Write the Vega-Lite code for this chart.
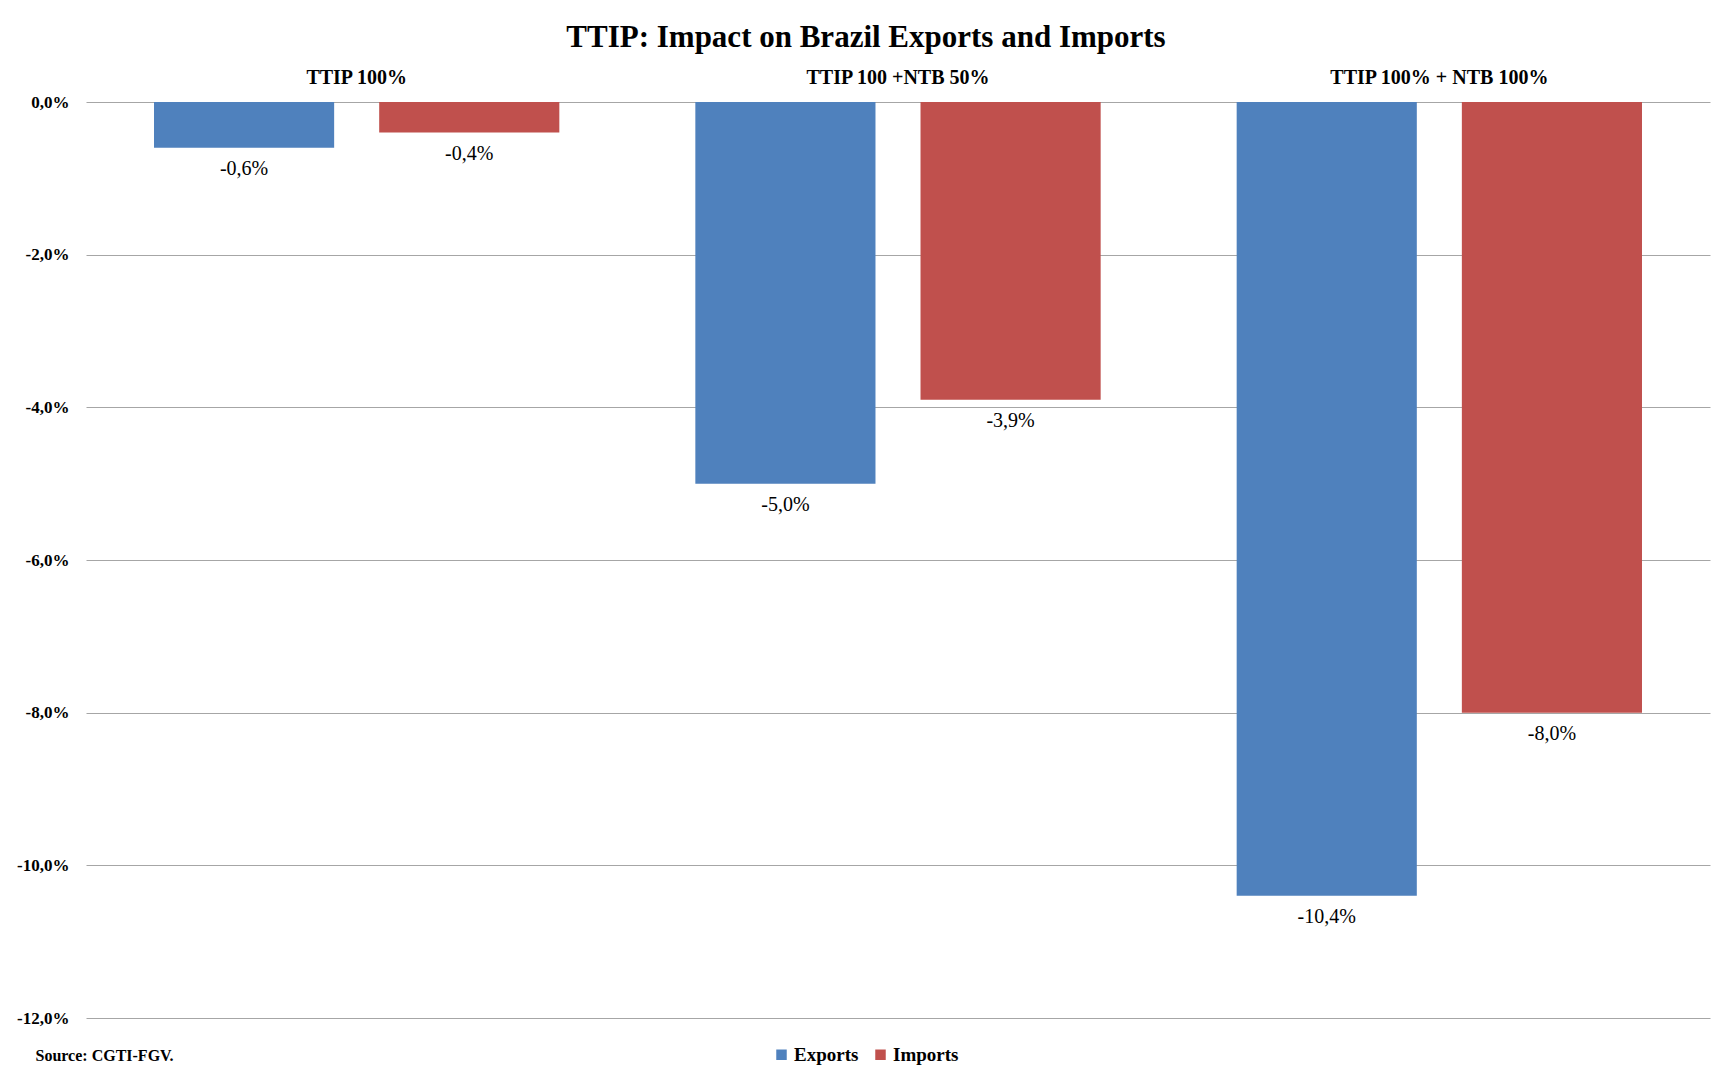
{
  "$schema": "https://vega.github.io/schema/vega-lite/v6.json",
  "width": 1624,
  "height": 916,
  "autosize": {"type": "none"},
  "padding": {"left": 86, "top": 102, "right": 22, "bottom": 58},
  "background": "white",
  "config": {
    "locale": {"number": {"decimal": ",", "thousands": ".", "grouping": [3], "currency": ["R$", ""], "minus": "-"}},
    "font": "Liberation Serif",
    "view": {"stroke": null}
  },
  "title": {
    "text": "TTIP: Impact on Brazil Exports and Imports",
    "font": "Liberation Serif",
    "fontSize": 31,
    "fontWeight": "bold",
    "color": "black",
    "anchor": "middle",
    "dx": -32,
    "offset": 13
  },
  "data": {
    "values": [
      {"scenario": "TTIP 100%", "flow": "Exports", "value": -0.006},
      {"scenario": "TTIP 100%", "flow": "Imports", "value": -0.004},
      {"scenario": "TTIP 100 +NTB 50%", "flow": "Exports", "value": -0.050},
      {"scenario": "TTIP 100 +NTB 50%", "flow": "Imports", "value": -0.039},
      {"scenario": "TTIP 100% + NTB 100%", "flow": "Exports", "value": -0.104},
      {"scenario": "TTIP 100% + NTB 100%", "flow": "Imports", "value": -0.080}
    ]
  },
  "encoding": {
    "x": {
      "field": "scenario",
      "type": "nominal",
      "sort": ["TTIP 100%", "TTIP 100 +NTB 50%", "TTIP 100% + NTB 100%"],
      "scale": {"paddingInner": 0, "paddingOuter": 0},
      "axis": {
        "orient": "top",
        "title": null,
        "labelAngle": 0,
        "domain": false,
        "ticks": false,
        "labelFont": "Liberation Serif",
        "labelFontWeight": "bold",
        "labelFontSize": 20,
        "labelColor": "black",
        "labelPadding": 15,
        "labelLimit": 0
      }
    },
    "xOffset": {
      "field": "flow",
      "type": "nominal",
      "sort": ["Exports", "Imports"],
      "scale": {"paddingInner": 0.2, "paddingOuter": 0.302}
    },
    "y": {
      "field": "value",
      "type": "quantitative",
      "scale": {"domain": [-0.12, 0], "nice": false},
      "axis": {
        "values": [0, -0.02, -0.04, -0.06, -0.08, -0.1, -0.12],
        "format": ".1%",
        "domain": false,
        "ticks": false,
        "grid": true,
        "gridColor": "#A6A6A6",
        "gridWidth": 1,
        "labelFont": "Liberation Serif",
        "labelFontWeight": "bold",
        "labelFontSize": 17,
        "labelColor": "black",
        "labelPadding": 17,
        "title": "Source: CGTI-FGV.",
        "titleAngle": 0,
        "titleAlign": "left",
        "titleBaseline": "middle",
        "titleX": -51,
        "titleY": 953,
        "titleFont": "Liberation Serif",
        "titleFontSize": 16,
        "titleFontWeight": "bold",
        "titleColor": "black"
      }
    }
  },
  "layer": [
    {
      "mark": {"type": "bar"},
      "encoding": {
        "color": {
          "field": "flow",
          "type": "nominal",
          "scale": {"domain": ["Exports", "Imports"], "range": ["#4F81BD", "#C0504D"]},
          "legend": {
            "orient": "none",
            "legendX": 686,
            "legendY": 943,
            "direction": "horizontal",
            "title": null,
            "symbolType": "square",
            "symbolSize": 110,
            "symbolStrokeWidth": 0,
            "labelFont": "Liberation Serif",
            "labelFontWeight": "bold",
            "labelFontSize": 19,
            "labelColor": "black",
            "labelOffset": 3,
            "columnPadding": 12
          }
        }
      }
    },
    {
      "mark": {"type": "text", "baseline": "middle", "dy": 21, "fontSize": 20, "font": "Liberation Serif", "color": "black"},
      "encoding": {
        "text": {"field": "value", "type": "quantitative", "format": ".1%"}
      }
    }
  ]
}
